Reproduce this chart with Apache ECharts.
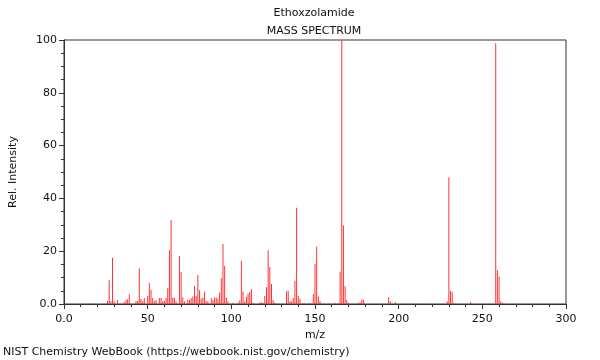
<!DOCTYPE html>
<html>
<head>
<meta charset="utf-8">
<script src="https://cdn.jsdelivr.net/npm/echarts@6/dist/echarts.min.js"></script>
<style>html,body{margin:0;padding:0;background:#fff;}#c{width:600px;height:360px;}</style>
</head>
<body>
<div id="c"></div>
<script>
const mzValues = [16,26,27,28,29,30,32,36,37,38,39,43,44,45,46,47,48,50,51,52,53,54,55,57,58,59,60,61,62,63,64,65,66,67,69,70,71,72,74,75,76,77,78,79,80,81,82,83,84,85,86,88,89,90,91,92,93,94,95,96,97,98,101,104,105,106,107,108,109,110,111,112,113,117,118,119,120,121,122,123,124,125,126,133,134,135,136,137,138,139,140,141,143,144,147,149,150,151,152,153,162,164,165,166,167,168,169,170,176,177,178,179,194,195,198,213,229,230,231,232,233,243,258,259,260,261,262];
const intensities = [0.4,1.1,9,1,17.5,1,1.5,0.8,1.5,1.8,3.7,1,1.2,13.4,1.9,1,2.3,3,8,5.3,2.3,1,1.5,2.3,2.3,1,1.2,2.3,6,20.4,31.8,2.5,2.3,1,18.2,12.1,2.6,1,1.6,1.6,2.3,2.8,6.8,3,11,5.2,2,2.5,4.6,1,1,2.3,1.5,2.5,2.5,2,4.4,9.8,22.7,14.4,2.5,1,0.5,0.5,1.3,16.3,4.7,1,2.7,4,4.5,5.7,0.5,0.6,0.6,0.5,3,6.3,20.4,14,7.6,1.5,0.5,4.9,4.9,1,1,2.3,8.8,36.5,3,2,0.4,0.3,0.5,3.8,15.2,21.7,2.8,1,0.5,0.3,12.2,100,29.7,6.8,1.5,0.5,0.5,0.6,1.8,1.5,2.6,1,0.8,0.2,1,48,5,4.5,0.5,0.8,98.8,12.9,10.4,1,0.5];
const titleText = 'Ethoxzolamide';
const subTitleText = 'MASS SPECTRUM';
const xName = 'm/z';
const yName = 'Rel. Intensity';
const footer = 'NIST Chemistry WebBook (https://webbook.nist.gov/chemistry)';

const data = mzValues.map((m, i) => [m, intensities[i]]);
const font = 'DejaVu Sans';
const chart = echarts.init(document.getElementById('c'), null, {renderer: 'canvas'});
const axisCommon = {
  axisLine: {show: true, lineStyle: {color: '#333', width: 1}},
  axisTick: {show: true, inside: false, length: 5, lineStyle: {color: '#333'}},
  minorTick: {show: true, length: 3, lineStyle: {color: '#333'}},
  splitLine: {show: false},
  axisLabel: {color: '#111', fontFamily: font, fontSize: 11, formatter: v => v === 0 ? '0.0' : String(v)},
  nameTextStyle: {color: '#111', fontFamily: font, fontSize: 11}
};
chart.setOption({
  animation: false,
  backgroundColor: '#fff',
  graphic: [
    {type: 'text', x: 314, y: 13, style: {text: titleText, fontFamily: font, fontSize: 11, fill: '#111', textAlign: 'center', textVerticalAlign: 'middle'}},
    {type: 'text', x: 314, y: 31, style: {text: subTitleText, fontFamily: font, fontSize: 11, fill: '#111', textAlign: 'center', textVerticalAlign: 'middle'}},
    {type: 'text', left: 3, top: 347, style: {text: footer, fontFamily: font, fontSize: 11, fill: '#111'}}
  ],
  grid: {left: 62, right: 34, top: 40, bottom: 56, show: true, borderColor: '#333', borderWidth: 1, backgroundColor: 'transparent'},
  xAxis: Object.assign({}, axisCommon, {
    type: 'value', min: 0, max: 300, interval: 50,
    minorTick: {show: true, splitNumber: 5, length: 3, lineStyle: {color: '#333'}},
    name: xName, nameLocation: 'middle', nameGap: 24,
    axisLabel: Object.assign({}, axisCommon.axisLabel, {margin: 10})
  }),
  yAxis: Object.assign({}, axisCommon, {
    type: 'value', min: 0, max: 100, interval: 20,
    minorTick: {show: true, splitNumber: 4, length: 3, lineStyle: {color: '#333'}},
    name: yName, nameLocation: 'middle', nameGap: 45,
    axisLabel: Object.assign({}, axisCommon.axisLabel, {margin: 7})
  }),
  series: [{
    type: 'bar',
    data: data,
    barWidth: 1,
    barGap: '-100%',
    itemStyle: {color: '#ff3333'},
    silent: true
  }]
});
</script>
</body>
</html>
